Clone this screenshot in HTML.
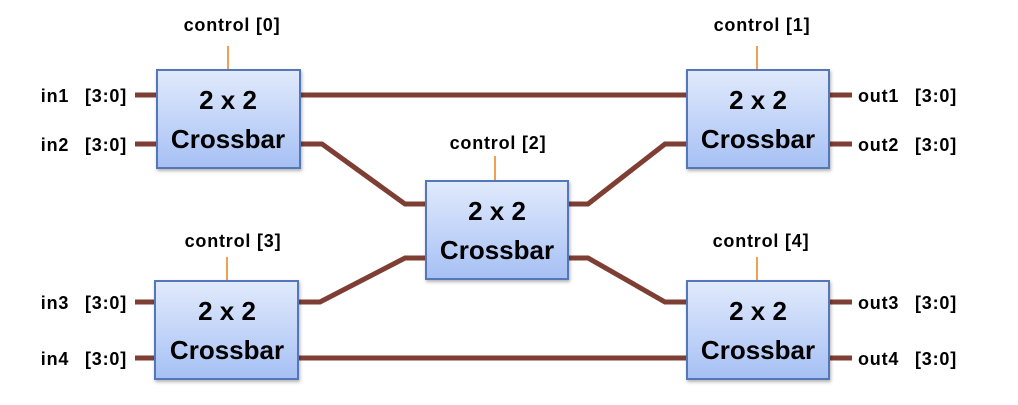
<!DOCTYPE html>
<html><head><meta charset="utf-8"><style>
html,body{margin:0;padding:0;background:#fff;}
body{width:1018px;height:400px;overflow:hidden;}
</style></head><body>
<svg width="1018" height="400" xmlns="http://www.w3.org/2000/svg" style="font-family:'Liberation Sans',sans-serif;font-weight:bold;">
<defs>
<linearGradient id="g" x1="0" y1="0" x2="0" y2="1">
<stop offset="0" stop-color="#e1eafc"/><stop offset="1" stop-color="#a6c0f4"/>
</linearGradient>
<filter id="s" x="-10%" y="-10%" width="130%" height="130%"><feDropShadow dx="1" dy="2" stdDeviation="1.5" flood-color="#000" flood-opacity="0.3"/></filter>
</defs>
<g stroke="#7f3e34" stroke-width="5" fill="none" stroke-linejoin="miter">
<line x1="135" y1="95" x2="158" y2="95"/>
<line x1="135" y1="144" x2="158" y2="144"/>
<line x1="135" y1="302" x2="156" y2="302"/>
<line x1="135" y1="358" x2="156" y2="358"/>
<line x1="828" y1="95" x2="852" y2="95"/>
<line x1="828" y1="144" x2="852" y2="144"/>
<line x1="828" y1="302" x2="852" y2="302"/>
<line x1="828" y1="358" x2="852" y2="358"/>
<line x1="300" y1="95" x2="687" y2="95"/>
<line x1="298" y1="358" x2="687" y2="358"/>
<polyline points="300,144 322,144 405,204 427,204"/>
<polyline points="567,204 588,204 665,144 687,144"/>
<polyline points="298,302 320,302 405,258 427,258"/>
<polyline points="567,258 588,258 665,302 687,302"/>
</g>
<g stroke="#f0a050" stroke-width="2">
<line x1="228" y1="46" x2="228" y2="70"/>
<line x1="757" y1="46" x2="757" y2="70"/>
<line x1="495" y1="156" x2="495" y2="181"/>
<line x1="227" y1="257" x2="227" y2="281"/>
<line x1="757" y1="257" x2="757" y2="281"/>
</g>
<g fill="url(#g)" stroke="#5277b8" stroke-width="2" filter="url(#s)">
<rect x="157" y="70" width="143" height="98"/>
<rect x="687" y="70" width="142" height="98"/>
<rect x="426" y="181" width="142" height="98"/>
<rect x="155" y="281" width="143" height="98"/>
<rect x="687" y="281" width="142" height="98"/>
</g>
<g font-size="26" text-anchor="middle" fill="#000">
<text x="228" y="109">2 x 2</text><text x="228" y="148">Crossbar</text>
<text x="758" y="109">2 x 2</text><text x="758" y="148">Crossbar</text>
<text x="497" y="220">2 x 2</text><text x="497" y="259">Crossbar</text>
<text x="227" y="320">2 x 2</text><text x="227" y="359">Crossbar</text>
<text x="758" y="320">2 x 2</text><text x="758" y="359">Crossbar</text>
</g>
<g font-size="18" text-anchor="middle" fill="#000" letter-spacing="0.8">
<text x="232" y="31">control [0]</text>
<text x="762" y="31">control [1]</text>
<text x="498" y="149">control [2]</text>
<text x="233" y="247">control [3]</text>
<text x="761" y="247">control [4]</text>
</g>
<g font-size="18" text-anchor="end" fill="#000" letter-spacing="0.8" word-spacing="10">
<text x="127" y="102">in1 [3:0]</text>
<text x="127" y="151">in2 [3:0]</text>
<text x="127" y="309">in3 [3:0]</text>
<text x="127" y="365">in4 [3:0]</text>
</g>
<g font-size="18" fill="#000" letter-spacing="0.8" word-spacing="10">
<text x="858" y="102">out1 [3:0]</text>
<text x="858" y="151">out2 [3:0]</text>
<text x="858" y="309">out3 [3:0]</text>
<text x="858" y="365">out4 [3:0]</text>
</g>
</svg>
</body></html>
